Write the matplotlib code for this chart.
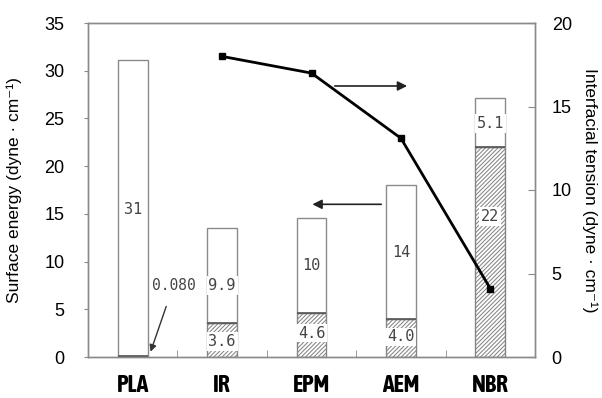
import matplotlib
matplotlib.use("Agg")
import matplotlib.pyplot as plt
from matplotlib import font_manager
import numpy as np

categories = ["PLA", "IR", "EPM", "AEM", "NBR"]
dispersive = [0.080, 3.6, 4.6, 4.0, 22]      # hatched lower segment
polar = [31, 9.9, 10, 14, 5.1]               # white upper segment
tension_cats = ["IR", "EPM", "AEM", "NBR"]
tension = [18.0, 17.0, 13.1, 4.1]
lower_labels = ["", "3.6", "4.6", "4.0", "22"]
upper_labels = ["31", "9.9", "10", "14", "5.1"]

def _w(f):
    wt = f.weight
    if isinstance(wt, str):
        return 700 if "bold" in wt.lower() else 400
    return wt

bold_cond = sorted({f.name for f in font_manager.fontManager.ttflist
                    if ("Narrow" in f.name or "Condensed" in f.name) and _w(f) >= 600})
any_cond = sorted({f.name for f in font_manager.fontManager.ttflist
                   if ("Narrow" in f.name or "Condensed" in f.name)})
cat_font = bold_cond[0] if bold_cond else (any_cond[0] if any_cond else None)

plt.rcParams["font.family"] = ["Liberation Sans", "DejaVu Sans"]
plt.rcParams["hatch.linewidth"] = 0.75

fig = plt.figure(figsize=(6.02, 3.98), dpi=100)
ax = fig.add_axes([88/602, 41/398, 447/602, 334/398])

x = np.arange(len(categories)) + 0.5
w = 0.335
gray = "#8a8a8a"
ax.bar(x, dispersive, w, color="white", edgecolor="#858585", hatch="////////",
       linewidth=1.0, zorder=2)
ax.bar(x, polar, w, bottom=dispersive, color="white", edgecolor=gray,
       linewidth=1.0, zorder=2)
ax.hlines(dispersive, x - w/2, x + w/2, color="#555555", lw=1.2, zorder=3)

ax.set_xlim(0, 5)
ax.set_ylim(0, 35)
ax.set_yticks(np.arange(0, 36, 5))
ax.set_xticks(x)
if cat_font:
    ax.set_xticklabels(categories, fontsize=17, fontweight="bold",
                       family=[cat_font, "DejaVu Sans"])
else:
    ax.set_xticklabels(categories, fontsize=13.5, fontweight="bold",
                       family=["DejaVu Sans"])
ax.tick_params(axis="x", which="major", length=0, pad=12)
ax.set_xticks([1, 2, 3, 4], minor=True)
ax.tick_params(axis="x", which="minor", direction="in", length=5, color=gray)
ax.tick_params(axis="y", direction="out", length=3, color=gray, labelsize=13, pad=14)
for s in ax.spines.values():
    s.set_color(gray)
    s.set_linewidth(1.0)
ax.set_ylabel("Surface energy (dyne · cm⁻¹)", fontsize=12.5)
ax.yaxis.set_label_coords(-0.147, 0.5)

lab_kw = dict(ha="center", va="center", fontsize=11, color="#444444",
              family=["DejaVu Sans Mono"], zorder=5)
box = dict(boxstyle="square,pad=0.12", fc="white", ec="none")
upper_y = [15.5, 7.5, 9.6, 10.9, 24.5]
lower_y = [0, 1.6, 2.5, 2.1, 14.7]
for i in range(len(categories)):
    ax.text(x[i], upper_y[i], upper_labels[i], bbox=box, **lab_kw)
    if lower_labels[i]:
        ax.text(x[i], lower_y[i], lower_labels[i], bbox=box, **lab_kw)

ax.annotate("0.080", xy=(0.70, 0.55), xytext=(0.955, 7.47),
            ha="center", va="center", fontsize=10.5, color="#444444",
            family=["DejaVu Sans Mono"],
            arrowprops=dict(arrowstyle="-|>", color="#333333", lw=1.0,
                            mutation_scale=10, shrinkA=8, shrinkB=0))

ax.annotate("", xy=(3.57, 28.4), xytext=(2.76, 28.4),
            arrowprops=dict(arrowstyle="-|>", color="#222222", lw=1.2,
                            mutation_scale=14, shrinkA=0, shrinkB=0))
ax.annotate("", xy=(2.51, 16.0), xytext=(3.28, 16.0),
            arrowprops=dict(arrowstyle="-|>", color="#222222", lw=1.2,
                            mutation_scale=14, shrinkA=0, shrinkB=0))

ax2 = ax.twinx()
tx = [x[categories.index(c)] for c in tension_cats]
ax2.plot(tx, tension, color="black", lw=2.0, marker="s", markersize=4.5, zorder=6)
ax2.set_ylim(0, 20)
ax2.set_yticks([0, 5, 10, 15, 20])
ax2.tick_params(axis="y", direction="in", length=5, color=gray, labelsize=13, pad=12)
for s in ax2.spines.values():
    s.set_color(gray)
    s.set_linewidth(1.0)
ax2.set_ylabel("Interfacial tension (dyne · cm⁻¹)", fontsize=12.5, rotation=270)
ax2.yaxis.set_label_coords(1.14, 0.5)

fig.savefig("out.png", dpi=100)
